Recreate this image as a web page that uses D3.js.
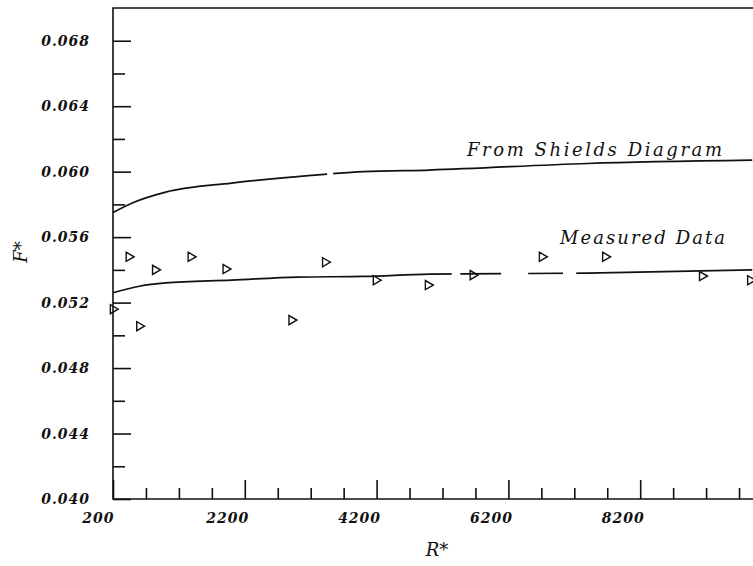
<!DOCTYPE html>
<html lang="en">
<head>
    <meta charset="UTF-8">
    <script src="https://cdn.jsdelivr.net/npm/d3@7"></script>
    <title>F* vs R*</title>
    <style>
        body { margin: 0; background: #fff; }
        svg { display: block; }
        .tick-label {
            font-family: "DejaVu Serif", serif;
            font-style: italic;
            font-weight: bold;
            font-size: 14px;
            letter-spacing: 1px;
            fill: #111;
        }
        .title-text {
            font-family: "DejaVu Serif", serif;
            font-style: italic;
            font-size: 18px;
            fill: #111;
        }
    </style>
</head>
<body>
<div id="chart"></div>
<script>
    const svgWidth = 753;
    const svgHeight = 566;

    // ticks (10200 lies past the right edge of the picture, tick only)
    const xMajorTicks = [200, 2200, 4200, 6200, 8200];
    const xMinorTicks = d3.range(700, 10200, 500).filter(v => (v - 200) % 2000 !== 0);
    const yMajorTicks = [0.040, 0.044, 0.048, 0.052, 0.056, 0.060, 0.064, 0.068];
    const yMinorTicks = [0.042, 0.046, 0.050, 0.054, 0.058, 0.062, 0.066];

    // curve: Shields diagram
    const shieldsR = [200, 500, 1000, 2000, 3000, 4000, 5000, 7400, 9900];
    const shieldsF = [0.0575, 0.0581, 0.05875, 0.0593, 0.0597, 0.0600, 0.0601, 0.0605, 0.0607];

    // fitted curve through measured data
    const fitR = [200, 600, 1000, 2000, 3000, 4000, 5000, 7400, 9900];
    const fitF = [0.0526, 0.0530, 0.0532, 0.05337, 0.05356, 0.0536, 0.05374, 0.0538, 0.0540];

    // measured points
    const measR = [200, 440, 600, 840, 1380, 1910, 2910, 3420, 4190, 4980, 5660, 6710, 7670, 9140, 9870];
    const measF = [0.0516, 0.0548, 0.05056, 0.0540, 0.0548, 0.05405, 0.05093, 0.05447, 0.05337, 0.05307, 0.05368, 0.0548, 0.0548, 0.05362, 0.05337];

    // small breaks in the scanned lines [from, to] in R*
    const shieldsGaps = [[3450, 3570]];
    const fitGaps = [[5340, 5500], [6120, 6530], [7060, 7260]];

    const svg = d3.select("#chart").append("svg")
        .attr("width", svgWidth)
        .attr("height", svgHeight);

    const x = d3.scaleLinear().domain([200, 10200]).range([113, 772]);
    const y = d3.scaleLinear().domain([0.040, 0.070]).range([499, 8]);

    const ink = "#111";

    // frame
    svg.append("path")
        .attr("d", `M${x(10200)},${y(0.070)}H${x(200)}V${y(0.040)}H${x(10200)}`)
        .attr("fill", "none")
        .attr("stroke", ink)
        .attr("stroke-width", 1.6);

    // y axis: major (labelled) and minor ticks, pointing inward
    const yAxisMajor = svg.append("g")
        .attr("transform", `translate(${x(200)},0)`)
        .call(d3.axisLeft(y).tickValues(yMajorTicks).tickSize(-18).tickPadding(23)
            .tickFormat(d3.format(".3f")));
    const yAxisMinor = svg.append("g")
        .attr("transform", `translate(${x(200)},0)`)
        .call(d3.axisLeft(y).tickValues(yMinorTicks).tickSize(-12).tickFormat(""));

    // x axis
    const xAxisMajor = svg.append("g")
        .attr("transform", `translate(0,${y(0.040)})`)
        .call(d3.axisBottom(x).tickValues(xMajorTicks.concat([10200])).tickSize(-19).tickPadding(14)
            .tickFormat(d => xMajorTicks.includes(d) ? d3.format("d")(d) : ""));
    const xAxisMinor = svg.append("g")
        .attr("transform", `translate(0,${y(0.040)})`)
        .call(d3.axisBottom(x).tickValues(xMinorTicks).tickSize(-11).tickFormat(""));

    [yAxisMajor, yAxisMinor, xAxisMajor, xAxisMinor].forEach(g => {
        g.select(".domain").remove();
        g.selectAll(".tick line").attr("stroke", ink).attr("stroke-width", 1.6);
        g.selectAll(".tick text").attr("class", "tick-label").attr("font-family", null).attr("font-size", null);
    });
    xAxisMajor.selectAll(".tick text").attr("text-anchor", "end").attr("dx", d => d === 200 ? "1px" : "4px");

    // axis titles
    svg.append("text")
        .attr("class", "title-text")
        .attr("x", 437).attr("y", 556)
        .attr("text-anchor", "middle")
        .text("R*");
    svg.append("text")
        .attr("class", "title-text")
        .attr("transform", "translate(27,252) rotate(-90)")
        .attr("text-anchor", "middle")
        .text("F*");

    // clip paths leaving the small breaks in the lines
    const makeClip = (id, gaps) => {
        const edges = [200].concat(gaps.flat(), [10200]);
        const clip = svg.append("clipPath").attr("id", id);
        for (let i = 0; i < edges.length; i += 2) {
            clip.append("rect")
                .attr("x", x(edges[i]) - 2)
                .attr("y", 0)
                .attr("width", x(edges[i + 1]) - x(edges[i]) + (i === 0 ? 2 : 0))
                .attr("height", svgHeight);
        }
    };
    makeClip("clip-shields", shieldsGaps);
    makeClip("clip-fit", fitGaps);

    const line = d3.line()
        .x(d => x(d[0]))
        .y(d => y(d[1]))
        .curve(d3.curveMonotoneX);

    svg.append("path")
        .datum(d3.zip(shieldsR, shieldsF))
        .attr("d", line)
        .attr("clip-path", "url(#clip-shields)")
        .attr("fill", "none")
        .attr("stroke", ink)
        .attr("stroke-width", 1.7);

    svg.append("path")
        .datum(d3.zip(fitR, fitF))
        .attr("d", line)
        .attr("clip-path", "url(#clip-fit)")
        .attr("fill", "none")
        .attr("stroke", ink)
        .attr("stroke-width", 1.7);

    // measured data: open triangles pointing right
    const tri = d3.symbol().type(d3.symbolTriangle).size(36);
    svg.selectAll(".pt")
        .data(d3.zip(measR, measF))
        .enter()
        .append("path")
        .attr("class", "pt")
        .attr("d", tri)
        .attr("transform", d => `translate(${x(d[0])},${y(d[1])}) rotate(90)`)
        .attr("fill", "none")
        .attr("stroke", ink)
        .attr("stroke-width", 1.4);

    // curve labels
    svg.append("text")
        .attr("class", "title-text")
        .attr("x", 467).attr("y", 156)
        .attr("textLength", 255)
        .attr("lengthAdjust", "spacing")
        .text("From Shields Diagram");
    svg.append("text")
        .attr("class", "title-text")
        .attr("x", 560).attr("y", 244)
        .attr("textLength", 165)
        .attr("lengthAdjust", "spacing")
        .text("Measured Data");
</script>
</body>
</html>
